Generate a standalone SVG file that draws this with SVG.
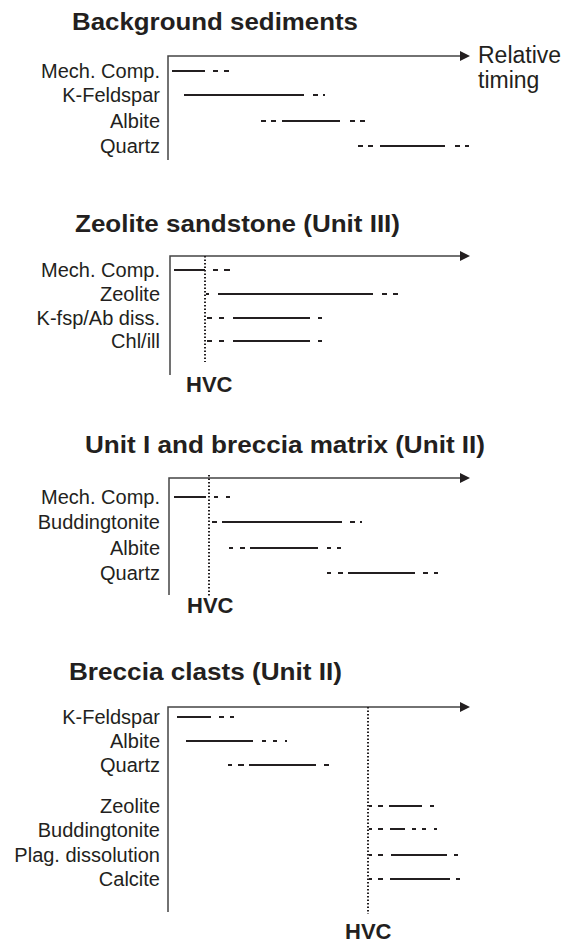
<svg xmlns="http://www.w3.org/2000/svg" width="570" height="943" viewBox="0 0 570 943">
<style>
  .title{font-family:"Liberation Sans",Arial,sans-serif;font-weight:bold;font-size:24px;fill:#231f20}
  .lab{font-family:"Liberation Sans",Arial,sans-serif;font-size:20px;fill:#231f20;text-anchor:end}
  .txt{font-family:"Liberation Sans",Arial,sans-serif;font-size:23px;fill:#231f20}
  .hvc{font-family:"Liberation Sans",Arial,sans-serif;font-weight:bold;font-size:22px;fill:#231f20}
  .axis{stroke:#444;stroke-width:1.5;fill:none}
  .bar{stroke:#231f20;stroke-width:2.2;fill:none}
  .dot{stroke:#231f20;stroke-width:2;stroke-dasharray:1.5 2;fill:none}
  .head{fill:#231f20}
</style>
<rect width="570" height="943" fill="#fff"/>

<g id="panel-background">
  <text class="title" x="72" y="30" textLength="286" lengthAdjust="spacingAndGlyphs">Background sediments</text>
  <path class="axis" d="M168 160V56H462"/>
  <polygon class="head" points="460,51 470,56 460,61"/>
  <text class="txt" x="478" y="63">Relative</text>
  <text class="txt" x="478" y="88">timing</text>
  <text class="lab" x="160" y="78">Mech. Comp.</text>
  <text class="lab" x="160" y="102">K-Feldspar</text>
  <text class="lab" x="160" y="128">Albite</text>
  <text class="lab" x="160" y="153">Quartz</text>
  <g id="bars-background">
    <path class="bar" d="M172 71H205M213 71H218M224 71H229"/>
    <path class="bar" d="M184 95H304M313 95H318M323 95H325"/>
    <path class="bar" d="M261 121H266M271 121H276M282 121H340M350 121H355M360 121H365"/>
    <path class="bar" d="M358 146H363M368 146H373M380 146H445M455 146H460M465 146H469"/>
  </g>
</g>

<g id="panel-zeolite">
  <text class="title" x="75" y="232" textLength="325" lengthAdjust="spacingAndGlyphs">Zeolite sandstone (Unit III)</text>
  <path class="axis" d="M170 375V256H462"/>
  <polygon class="head" points="460,251 470,256 460,261"/>
  <line class="dot" x1="205" y1="256" x2="205" y2="362"/>
  <text class="hvc" x="186" y="392">HVC</text>
  <text class="lab" x="160" y="277">Mech. Comp.</text>
  <text class="lab" x="160" y="301">Zeolite</text>
  <text class="lab" x="160" y="325">K-fsp/Ab diss.</text>
  <text class="lab" x="160" y="348">Chl/ill</text>
  <g id="bars-zeolite">
    <path class="bar" d="M174 270H205M213 270H218M224 270H230"/>
    <path class="bar" d="M206 294H209M218 294H373M382 294H387M393 294H398"/>
    <path class="bar" d="M207 318H212M219 318H224M233 318H310M318 318H322"/>
    <path class="bar" d="M207 341H212M219 341H224M233 341H310M318 341H322"/>
  </g>
</g>

<g id="panel-unit1">
  <text class="title" x="85" y="453" textLength="400" lengthAdjust="spacingAndGlyphs">Unit I and breccia matrix (Unit II)</text>
  <path class="axis" d="M169 595V478H462"/>
  <polygon class="head" points="460,473 470,478 460,483"/>
  <line class="dot" x1="209" y1="475" x2="209" y2="596"/>
  <text class="hvc" x="187" y="613">HVC</text>
  <text class="lab" x="160" y="504">Mech. Comp.</text>
  <text class="lab" x="160" y="529">Buddingtonite</text>
  <text class="lab" x="160" y="555">Albite</text>
  <text class="lab" x="160" y="580">Quartz</text>
  <g id="bars-unit1">
    <path class="bar" d="M174 497H206M214 497H218M226 497H230"/>
    <path class="bar" d="M212 522H217M222 522H342M350 522H355M360 522H362"/>
    <path class="bar" d="M229 548H233M240 548H245M250 548H318M327 548H331M337 548H341"/>
    <path class="bar" d="M327 573H331M338 573H343M348 573H415M423 573H428M434 573H438"/>
  </g>
</g>

<g id="panel-breccia">
  <text class="title" x="69" y="680" textLength="273" lengthAdjust="spacingAndGlyphs">Breccia clasts (Unit II)</text>
  <path class="axis" d="M168 912V707H462"/>
  <polygon class="head" points="460,702 470,707 460,712"/>
  <line class="dot" x1="368" y1="707" x2="368" y2="914"/>
  <text class="hvc" x="345" y="939">HVC</text>
  <text class="lab" x="160" y="724">K-Feldspar</text>
  <text class="lab" x="160" y="748">Albite</text>
  <text class="lab" x="160" y="772">Quartz</text>
  <text class="lab" x="160" y="813">Zeolite</text>
  <text class="lab" x="160" y="837">Buddingtonite</text>
  <text class="lab" x="160" y="862">Plag. dissolution</text>
  <text class="lab" x="160" y="886">Calcite</text>
  <g id="bars-breccia">
    <path class="bar" d="M177 717H211M219 717H224M230 717H234"/>
    <path class="bar" d="M186 741H253M262 741H266M273 741H277M285 741H287"/>
    <path class="bar" d="M228 765H232M238 765H244M249 765H316M324 765H329"/>
    <path class="bar" d="M369 806H372M378 806H383M389 806H422M430 806H434"/>
    <path class="bar" d="M369 829H372M378 829H383M390 829H405M412 829H416M422 829H426M434 829H437"/>
    <path class="bar" d="M369 855H372M378 855H383M391 855H447M454 855H458"/>
    <path class="bar" d="M369 879H372M378 879H383M390 879H450M456 879H460"/>
  </g>
</g>
</svg>
